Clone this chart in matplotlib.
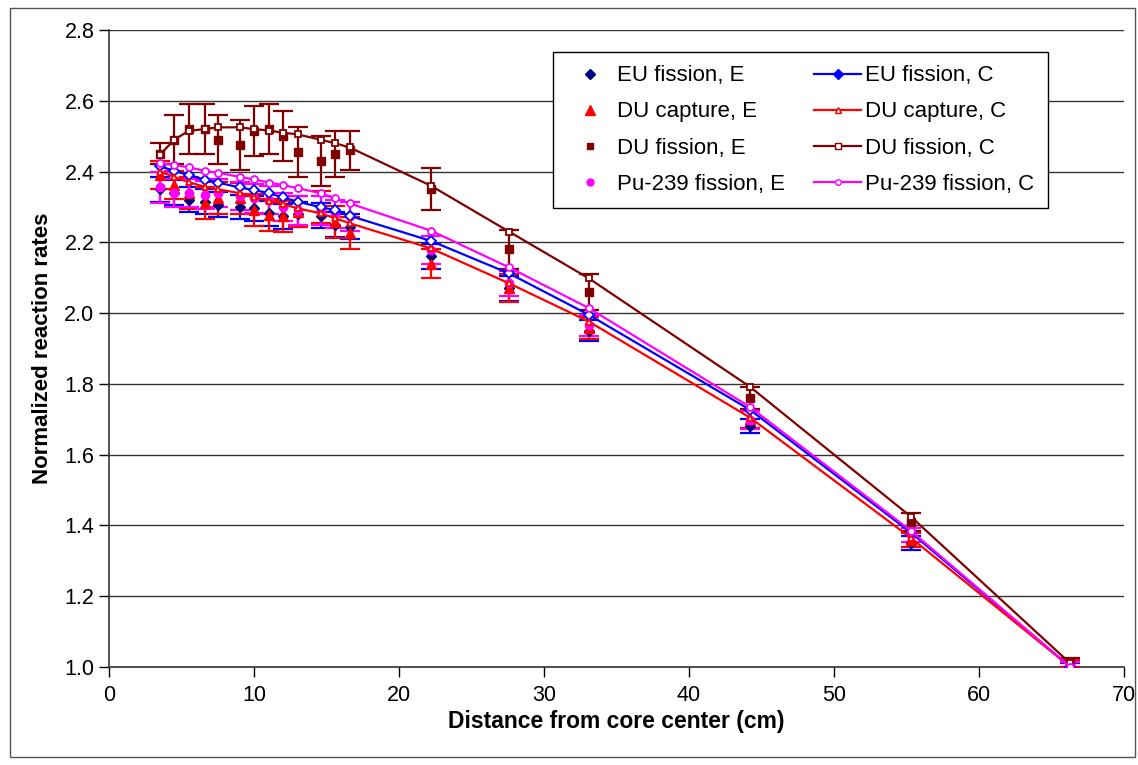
import matplotlib
matplotlib.use("Agg")
import matplotlib.pyplot as plt
from matplotlib.patches import Rectangle
from matplotlib.lines import Line2D

plt.rcParams['font.family'] = ['Liberation Sans', 'DejaVu Sans']

# Data
distance = [3.5, 4.5, 5.5, 6.6, 7.5, 9.0, 10.0, 11.0, 12.0, 13.0, 14.6, 15.6, 16.6,
            22.2, 27.6, 33.1, 44.2, 55.3, 66.3]

eu_fission_E = [2.35, 2.34, 2.32, 2.315, 2.306, 2.30, 2.296, 2.282, 2.273, 2.28, 2.275, 2.25, 2.244,
                2.16, 2.07, 1.95, 1.68, 1.35, 1.00]
eu_fission_err = [0.035, 0.035, 0.035, 0.035, 0.035, 0.035, 0.035, 0.035, 0.035, 0.035, 0.035, 0.035, 0.035,
                  0.035, 0.035, 0.03, 0.02, 0.02, 0.01]
du_capture_E = [2.39, 2.362, 2.339, 2.31, 2.325, 2.324, 2.291, 2.277, 2.273, 2.287, 2.30, 2.258, 2.226,
                2.14, 2.07, 1.958, 1.70, 1.36, 1.01]
du_capture_err = [0.04, 0.04, 0.045, 0.045, 0.045, 0.045, 0.045, 0.045, 0.045, 0.045, 0.045, 0.045, 0.045,
                  0.04, 0.04, 0.03, 0.025, 0.02, 0.01]
du_fission_E = [2.45, 2.49, 2.52, 2.52, 2.49, 2.475, 2.515, 2.52, 2.50, 2.455, 2.43, 2.45, 2.46,
                2.35, 2.18, 2.06, 1.76, 1.41, 1.01]
du_fission_err = [0.03, 0.07, 0.07, 0.07, 0.07, 0.07, 0.07, 0.07, 0.07, 0.07, 0.07, 0.065, 0.055,
                  0.06, 0.055, 0.05, 0.03, 0.025, 0.015]
pu_fission_E = [2.355, 2.339, 2.339, 2.334, 2.339, 2.33, 2.324, 2.32, 2.30, 2.29, 2.29, 2.28, 2.273,
                2.178, 2.084, 1.966, 1.698, 1.373, 1.005]
pu_fission_err = [0.045, 0.04, 0.04, 0.04, 0.04, 0.04, 0.04, 0.04, 0.04, 0.04, 0.04, 0.04, 0.04,
                  0.04, 0.035, 0.03, 0.025, 0.02, 0.01]

eu_fission_C = [2.415, 2.402, 2.390, 2.377, 2.369, 2.355, 2.348, 2.339, 2.327, 2.315, 2.299, 2.291, 2.275,
                2.204, 2.112, 1.995, 1.727, 1.380, 1.00]
du_capture_C = [2.400, 2.385, 2.370, 2.357, 2.350, 2.339, 2.327, 2.318, 2.308, 2.296, 2.282, 2.268, 2.254,
                2.183, 2.084, 1.976, 1.705, 1.365, 1.00]
du_fission_C = [2.447, 2.490, 2.515, 2.520, 2.525, 2.525, 2.520, 2.516, 2.510, 2.505, 2.490, 2.480, 2.468,
                2.360, 2.230, 2.098, 1.792, 1.425, 1.01]
pu_fission_C = [2.423, 2.419, 2.412, 2.402, 2.397, 2.385, 2.378, 2.369, 2.362, 2.353, 2.339, 2.324, 2.310,
                2.233, 2.129, 2.014, 1.735, 1.385, 1.00]

x_ticks = [0, 10, 20, 30, 40, 50, 60, 70]
y_ticks = [1.0, 1.2, 1.4, 1.6, 1.8, 2.0, 2.2, 2.4, 2.6, 2.8]
labels = ['EU fission, E', 'DU capture, E', 'DU fission, E', 'Pu-239 fission, E',
          'EU fission, C', 'DU capture, C', 'DU fission, C', 'Pu-239 fission, C']

NAVY = '#000080'
BLUE = '#0000FF'
RED = '#FF0000'
DRED = '#800000'
MAG = '#FF00FF'

fig = plt.figure(figsize=(11.38, 7.65), dpi=100)
ax = fig.add_axes([109/1138, 1 - 667/765, (1124 - 109)/1138, (667 - 30)/765])

# outer frame
fig.patches.append(Rectangle((10/1138, 1 - 757/765), (1135 - 10)/1138, (757 - 8)/765,
                             transform=fig.transFigure, fill=False, edgecolor='#555555',
                             linewidth=1.0, zorder=0))

# Experimental with error bars
eb_kw = dict(linestyle='none', capsize=7, elinewidth=1.6, capthick=1.6, zorder=3)
ax.errorbar(distance, eu_fission_E, yerr=eu_fission_err, marker='D', markersize=5,
            color=NAVY, ecolor=BLUE, label=labels[0], **eb_kw)
ax.errorbar(distance, du_capture_E, yerr=du_capture_err, marker='^', markersize=7,
            color=RED, ecolor=RED, label=labels[1], **eb_kw)
ax.errorbar(distance, du_fission_E, yerr=du_fission_err, marker='s', markersize=6,
            color=DRED, ecolor=DRED, label=labels[2], **eb_kw)
ax.errorbar(distance, pu_fission_E, yerr=pu_fission_err, marker='o', markersize=6,
            color=MAG, ecolor=MAG, label=labels[3], **eb_kw)

# Calculated lines
ln_kw = dict(linewidth=1.6, markersize=5, markerfacecolor='white', markeredgewidth=1.3, zorder=4)
ax.plot(distance, eu_fission_C, color=BLUE, marker='D', markeredgecolor=BLUE, label=labels[4], **ln_kw)
ax.plot(distance, du_capture_C, color=RED, marker='^', markeredgecolor=RED, label=labels[5], **ln_kw)
ax.plot(distance, du_fission_C, color=DRED, marker='s', markeredgecolor=DRED, label=labels[6], **ln_kw)
ax.plot(distance, pu_fission_C, color=MAG, marker='o', markeredgecolor=MAG, label=labels[7], **ln_kw)

ax.set_xlim(0, 70)
ax.set_ylim(1.0, 2.8)
ax.set_xticks(x_ticks)
ax.set_yticks(y_ticks)
ax.set_yticklabels([f'{v:.1f}' for v in y_ticks])
ax.tick_params(axis='both', direction='out', length=7, width=1, labelsize=15.5, colors='black')
ax.tick_params(axis='x', pad=6)
ax.yaxis.grid(True, color='#333333', linewidth=1.0)
ax.set_axisbelow(True)
for s in ['top', 'right']:
    ax.spines[s].set_visible(False)
for s in ['left', 'bottom']:
    ax.spines[s].set_color('#333333')
    ax.spines[s].set_linewidth(1.2)

ax.set_xlabel('Distance from core center (cm)', fontsize=16.5, fontweight='bold', labelpad=3)
ax.set_ylabel('Normalized reaction rates', fontsize=16, fontweight='bold', labelpad=8)

# Legend: experimental markers without error bars
leg_E = [Line2D([], [], linestyle='none', marker='D', markersize=5, color=NAVY),
         Line2D([], [], linestyle='none', marker='^', markersize=7, color=RED),
         Line2D([], [], linestyle='none', marker='s', markersize=5, color=DRED),
         Line2D([], [], linestyle='none', marker='o', markersize=5, color=MAG)]
leg_C = [Line2D([], [], color=BLUE, marker='D', markersize=5, linewidth=1.6),
         Line2D([], [], color=RED, marker='^', markersize=5, markerfacecolor='white', linewidth=1.6),
         Line2D([], [], color=DRED, marker='s', markersize=5, markerfacecolor='white', linewidth=1.6),
         Line2D([], [], color=MAG, marker='o', markersize=4, markerfacecolor='white', linewidth=1.6)]
leg = ax.legend(leg_E + leg_C, labels, ncol=2, loc='upper left',
                bbox_to_anchor=((553 - 109)/1015, 1 - (52 - 30)/637), borderaxespad=0,
                fontsize=16, frameon=True, fancybox=False, edgecolor='black',
                framealpha=1, handlelength=2.1, columnspacing=1.3, handletextpad=0.2,
                labelspacing=0.68, borderpad=0.6)
leg.get_frame().set_linewidth(1.0)

fig.savefig('out.png', dpi=100)
